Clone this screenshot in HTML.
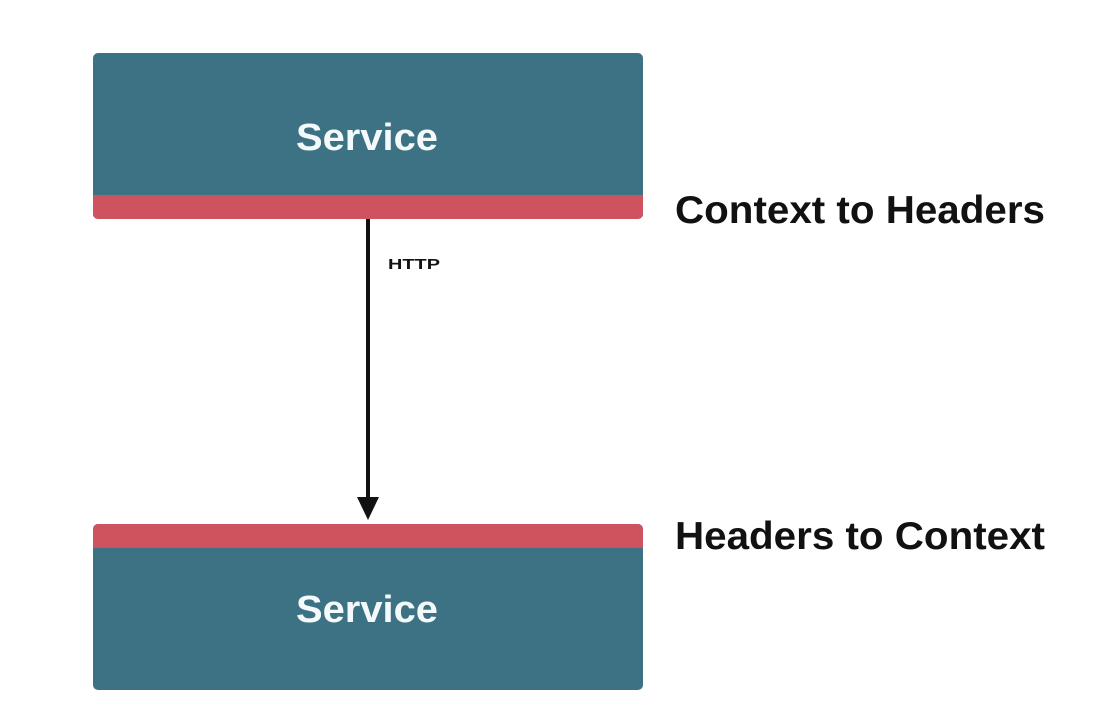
<!DOCTYPE html>
<html><head><meta charset="utf-8"><style>html,body{margin:0;padding:0;background:#fff}</style></head>
<body>
<svg width="1116" height="712" xmlns="http://www.w3.org/2000/svg" font-family="Liberation Sans, sans-serif" font-weight="bold">
<rect width="1116" height="712" fill="#fff"/>
<rect x="93" y="53" width="550" height="166" rx="5" fill="#3c7283"/>
<path d="M93 195 H643 V214 a5 5 0 0 1 -5 5 H98 a5 5 0 0 1 -5 -5 Z" fill="#cf525f"/>
<text x="367" y="150" text-anchor="middle" font-size="38" fill="#f4fafb" textLength="142" lengthAdjust="spacingAndGlyphs">Service</text>
<rect x="93" y="524" width="550" height="166" rx="5" fill="#3c7283"/>
<path d="M98 524 H638 a5 5 0 0 1 5 5 V548 H93 V529 a5 5 0 0 1 5 -5 Z" fill="#cf525f"/>
<text x="367" y="622" text-anchor="middle" font-size="38" fill="#f4fafb" textLength="142" lengthAdjust="spacingAndGlyphs">Service</text>
<line x1="368" y1="219" x2="368" y2="500" stroke="#111" stroke-width="4"/>
<polygon points="357,497 379,497 368,520" fill="#111"/>
<text x="388" y="269" font-size="15" fill="#111" textLength="52" lengthAdjust="spacingAndGlyphs">HTTP</text>
<text x="675" y="223" font-size="39" fill="#111" textLength="370" lengthAdjust="spacingAndGlyphs">Context to Headers</text>
<text x="675" y="549" font-size="39" fill="#111" textLength="370" lengthAdjust="spacingAndGlyphs">Headers to Context</text>
</svg>
</body></html>
